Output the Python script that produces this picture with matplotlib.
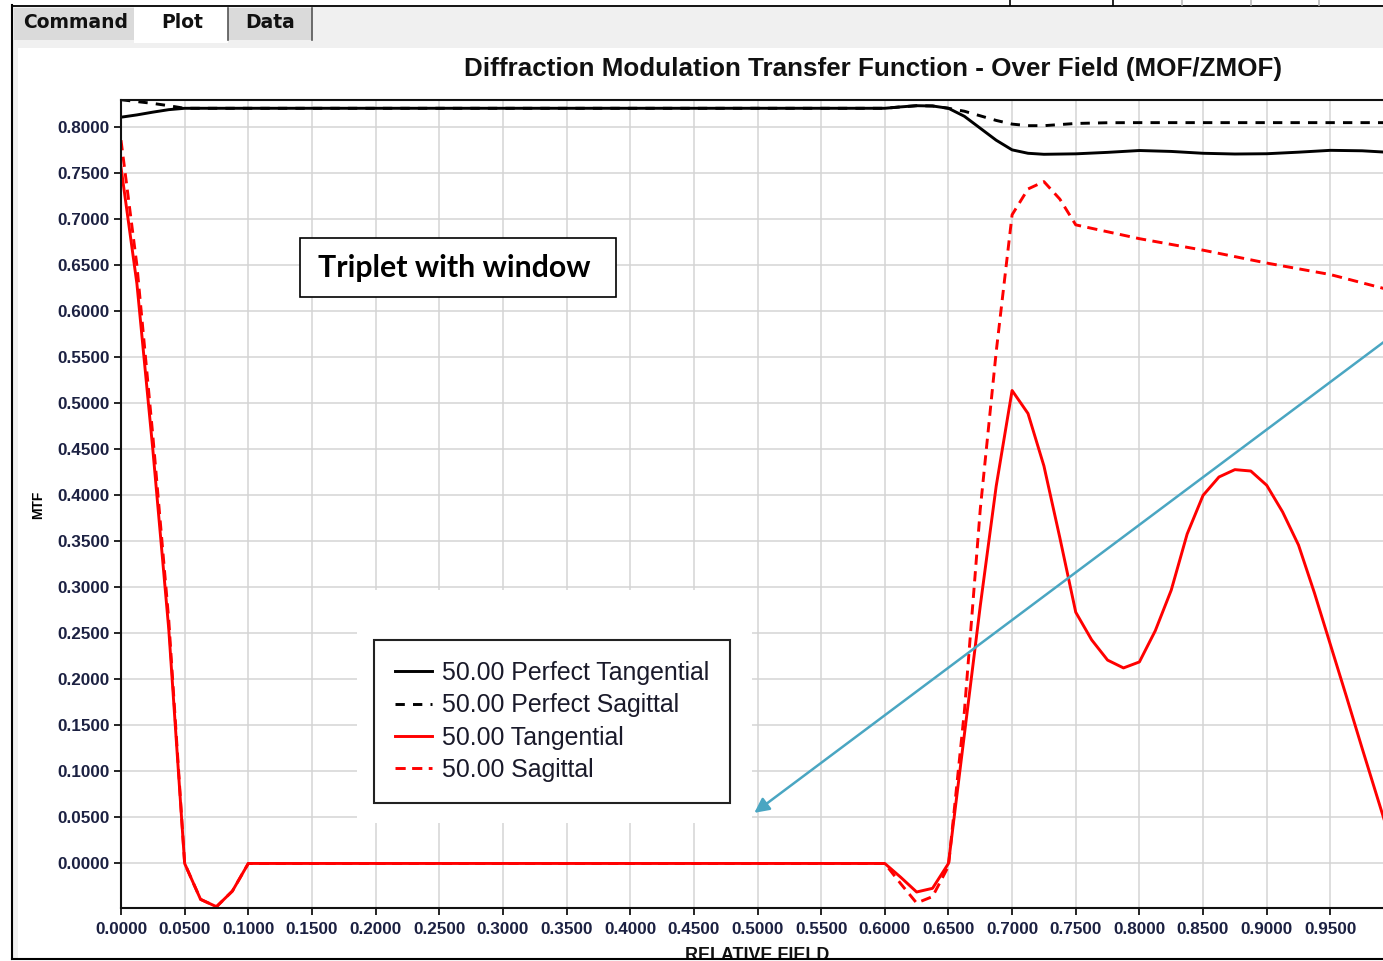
import numpy as np
import matplotlib
matplotlib.use("Agg")
from matplotlib import pyplot as plt
from matplotlib.patches import Rectangle
from matplotlib.lines import Line2D

plt.rcParams['font.family'] = ['Liberation Sans', 'DejaVu Sans']

# ---- data ----
field_perf_tan = [0, 0.0125, 0.025, 0.0375, 0.05, 0.6, 0.6125, 0.625, 0.6375, 0.65,
                  0.6625, 0.675, 0.6875, 0.7, 0.7125, 0.725, 0.75, 0.775, 0.8, 0.825,
                  0.85, 0.875, 0.9, 0.925, 0.95, 0.975, 1.0]
mtf_perf_tan = [0.811, 0.8135, 0.8165, 0.8192, 0.8207, 0.8207, 0.8222, 0.8235, 0.8232, 0.8207,
                0.812, 0.799, 0.786, 0.7755, 0.7718, 0.7707, 0.7712, 0.7728, 0.7748, 0.7738,
                0.7718, 0.7710, 0.7713, 0.7730, 0.7750, 0.7745, 0.7725]

field_perf_sag = [0, 0.0125, 0.025, 0.0375, 0.05, 0.6, 0.6125, 0.625, 0.6375, 0.65,
                  0.6625, 0.675, 0.6875, 0.7, 0.7125, 0.725, 0.7375, 0.75, 0.775, 0.8,
                  0.85, 0.9, 0.95, 1.0]
mtf_perf_sag = [0.830, 0.828, 0.826, 0.8235, 0.8207, 0.8207, 0.8222, 0.8235, 0.8232, 0.8207,
                0.8175, 0.8125, 0.8075, 0.8035, 0.8018, 0.8018, 0.8030, 0.8042, 0.8050, 0.8051,
                0.8051, 0.8051, 0.8051, 0.8051]

field_tan = [0, 0.0125, 0.025, 0.0375, 0.05, 0.0625, 0.075, 0.0875, 0.1, 0.6,
             0.6125, 0.625, 0.6375, 0.65, 0.6625, 0.675, 0.6875, 0.7, 0.7125, 0.725,
             0.7375, 0.75, 0.7625, 0.775, 0.7875, 0.8, 0.8125, 0.825, 0.8375, 0.85,
             0.8625, 0.875, 0.8875, 0.9, 0.9125, 0.925, 0.9375, 0.95, 0.9625, 0.975,
             0.9875, 1.0]
mtf_tan = [0.7565, 0.63, 0.45, 0.255, 0.0, -0.039, -0.047, -0.030, 0.0, 0.0,
           -0.015, -0.031, -0.027, 0.0, 0.14, 0.28, 0.41, 0.514, 0.489, 0.432,
           0.354, 0.273, 0.243, 0.221, 0.2125, 0.219, 0.253, 0.297, 0.358, 0.400,
           0.420, 0.428, 0.4265, 0.411, 0.382, 0.346, 0.294, 0.238, 0.182, 0.125,
           0.069, 0.013]

field_sag = [0, 0.0125, 0.025, 0.0375, 0.05, 0.0625, 0.075, 0.0875, 0.1, 0.6,
             0.6125, 0.625, 0.6375, 0.65, 0.6625, 0.675, 0.6875, 0.7, 0.7125, 0.725,
             0.7375, 0.75, 0.8, 0.85, 0.9, 0.95, 1.0]
mtf_sag = [0.786, 0.65, 0.465, 0.265, 0.0, -0.039, -0.047, -0.030, 0.0, 0.0,
           -0.022, -0.043, -0.036, -0.003, 0.165, 0.385, 0.556, 0.705, 0.733, 0.741,
           0.722, 0.694, 0.679, 0.6665, 0.6525, 0.640, 0.622]

labels = ["50.00 Perfect Tangential", "50.00 Perfect Sagittal",
          "50.00 Tangential", "50.00 Sagittal"]
arrow_from = (1.0, 0.575)
arrow_to = (0.4975, 0.055)

W, H = 1383, 961


def fx(x):
    return x / W


def fy(y):
    return 1 - y / H


def box(x0, y0, x1, y1, **kw):
    return Rectangle((fx(x0), fy(y1)), (x1 - x0) / W, (y1 - y0) / H, **kw)


fig = plt.figure(figsize=(W / 100, H / 100), dpi=100)
fig.patch.set_facecolor('white')

# window chrome
fig.add_artist(box(12, 5, W, 48, transform=fig.transFigure, facecolor='#f0f0f0', edgecolor='none', zorder=-2))
fig.add_artist(box(12, 5, 18, 958, transform=fig.transFigure, facecolor='#f0f0f0', edgecolor='none', zorder=-2))
fig.add_artist(box(14, 8, 134, 40, transform=fig.transFigure, facecolor='#dadada', edgecolor='none', zorder=-1))
fig.add_artist(box(134, 5, 228, 43, transform=fig.transFigure, facecolor='white', edgecolor='none', zorder=-1))
fig.add_artist(box(228, 8, 312, 40, transform=fig.transFigure, facecolor='#dadada', edgecolor='none', zorder=-1))
for xa in (228, 312):
    fig.add_artist(Line2D([fx(xa), fx(xa)], [fy(8), fy(40)], transform=fig.transFigure, color='#555555', lw=1.2))
fig.add_artist(Line2D([fx(12), fx(W)], [fy(5.5), fy(5.5)], transform=fig.transFigure, color='black', lw=1.3))
fig.add_artist(Line2D([fx(12), fx(12)], [fy(5), fy(959)], transform=fig.transFigure, color='black', lw=1.5))
for xa, c in ((1010, 'black'), (1113, 'black'), (1182, '#bbbbbb'), (1251, '#bbbbbb'), (1319, '#bbbbbb')):
    fig.add_artist(Line2D([fx(xa), fx(xa)], [fy(0), fy(5)], transform=fig.transFigure, color=c, lw=1.2))
fig.text(fx(76), fy(22), "Command", family='DejaVu Sans', weight='bold', fontsize=13.5, ha='center', va='center', color='#111111')
fig.text(fx(182), fy(23), "Plot", family='DejaVu Sans', weight='bold', fontsize=13.5, ha='center', va='center', color='#111111')
fig.text(fx(270), fy(22), "Data", family='DejaVu Sans', weight='bold', fontsize=13.5, ha='center', va='center', color='#111111')

# plot area
ax = fig.add_axes([fx(121), fy(908), (1394 - 121) / W, (908 - 100) / H])
ax.set_axisbelow(True)

ax.plot(field_perf_tan, mtf_perf_tan, color='black', lw=2.1, label=labels[0])
ax.plot(field_perf_sag, mtf_perf_sag, color='black', lw=2.1, dashes=(3.2, 2.8), label=labels[1])
ax.plot(field_tan, mtf_tan, color='#ff0000', lw=2.1, label=labels[2])
ax.plot(field_sag, mtf_sag, color='#ff0000', lw=2.1, dashes=(3.5, 2.2), label=labels[3])

ax.set_xlim(0, 1.0)
ax.set_ylim(-0.0484, 0.8297)
ax.set_xticks(np.arange(0, 0.951, 0.05))
ax.set_yticks(np.arange(0, 0.801, 0.05))
ax.xaxis.set_major_formatter(matplotlib.ticker.FormatStrFormatter('%.4f'))
ax.yaxis.set_major_formatter(matplotlib.ticker.FormatStrFormatter('%.4f'))
ax.grid(True, color='#d4d4d4', lw=1.1)
ax.tick_params(direction='out', length=5, width=1.2, labelsize=12.3, labelcolor='#1c2142', pad=3)
ax.tick_params(axis='x', pad=5)
for lab in ax.get_xticklabels() + ax.get_yticklabels():
    lab.set_fontweight('bold')
for side in ('left', 'bottom', 'top'):
    ax.spines[side].set_linewidth(1.5)
    ax.spines[side].set_color('#111111')
ax.spines['right'].set_visible(False)

# white areas behind legend and the note
ax.add_patch(box(357, 590, 752, 823, transform=fig.transFigure, facecolor='white', edgecolor='none', zorder=1))
ax.add_patch(box(300, 238, 616, 297, transform=fig.transFigure, facecolor='white', edgecolor='black', lw=1.2, zorder=3))
ax.text(fx(454), fy(268), "Triplet with window", transform=fig.transFigure, family=['Lato', 'DejaVu Sans'],
        weight='bold', fontsize=21.8, ha='center', va='center', color='black', zorder=4)

ax.annotate('', xy=arrow_to, xytext=arrow_from,
            arrowprops=dict(arrowstyle='-|>', color='#4aa6c2', lw=1.8, mutation_scale=22, shrinkA=0, shrinkB=0))

leg = ax.legend(loc='upper left', bbox_to_anchor=(fx(374), fy(640)), bbox_transform=fig.transFigure,
                borderaxespad=0, fontsize=17.9, frameon=True, fancybox=False, framealpha=1,
                edgecolor='#222222', handlelength=1.5, handletextpad=0.38, labelspacing=0.33,
                borderpad=0.85)
leg.get_frame().set_linewidth(1.5)
for t in leg.get_texts():
    t.set_color('#1a1a2a')

fig.text(fx(873), fy(69), "Diffraction Modulation Transfer Function - Over Field (MOF/ZMOF)",
         weight='bold', fontsize=18.7, ha='center', va='center', color='#111111')
fig.text(fx(38), fy(505), "MTF", weight='bold', fontsize=10, rotation=90, ha='center', va='center')
fig.text(fx(757), fy(955), "RELATIVE FIELD", weight='bold', fontsize=12.9, ha='center', va='center', color='#111111')

# bottom frame edge cuts the axis title
fig.add_artist(box(12, 958, W, H + 2, transform=fig.transFigure, facecolor='white', edgecolor='none', zorder=5))
fig.add_artist(Line2D([fx(12), fx(W)], [fy(959), fy(959)], transform=fig.transFigure, color='black', lw=1.5, zorder=6))

fig.savefig("out.png", dpi=100)
